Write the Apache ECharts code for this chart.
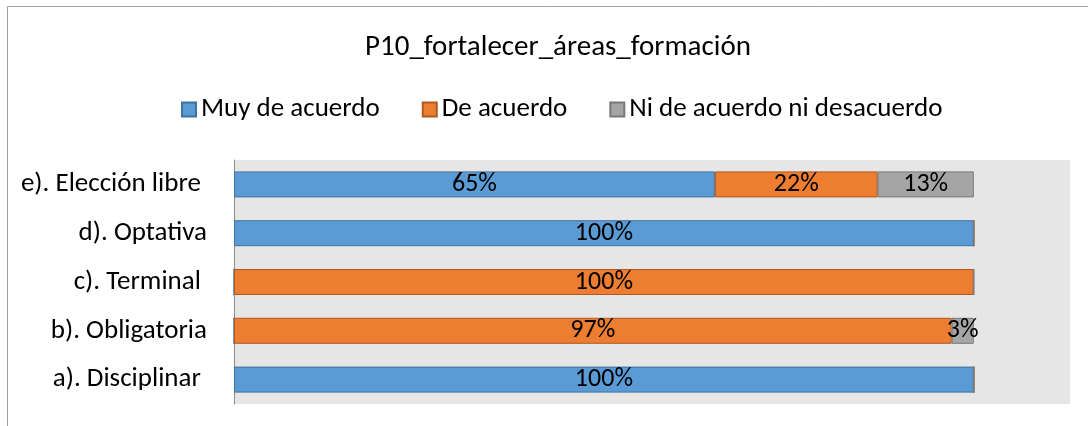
<!DOCTYPE html>
<html lang="es">
<head>
<meta charset="UTF-8">
<title>P10_fortalecer_áreas_formación</title>
<script src="https://cdn.jsdelivr.net/npm/echarts@6/dist/echarts.min.js"></script>
<style>
  html, body { margin: 0; padding: 0; background: #fff; }
</style>
</head>
<body>
<div id="main" style="width:1088px;height:426px;"></div>
<script>
  // categorías (de abajo hacia arriba, como en el eje)
  const categorias = ['a). Disciplinar ', 'b). Obligatoria', 'c). Terminal ', 'd). Optativa', 'e). Elección libre '];
  const muyDeAcuerdo = [100, 0, 0, 100, 65];
  const deAcuerdo = [0, 97, 100, 0, 22];
  const niNi = [0, 3, 0, 0, 13];
  const nombres = ['Muy de acuerdo', 'De acuerdo', 'Ni de acuerdo ni desacuerdo'];

  const fuente = 'Carlito, Lato, sans-serif';

  function serie(nombre, datos, color, borde) {
    return {
      name: nombre,
      type: 'bar',
      stack: 'total',
      barWidth: 26,
      data: datos,
      itemStyle: { color: color, borderColor: borde, borderWidth: 1 },
      label: {
        show: true,
        position: 'inside',
        color: '#000',
        fontSize: 26,
        fontFamily: fuente,
        formatter: p => p.value > 0 ? p.value + '%' : ''
      }
    };
  }

  const chart = echarts.init(document.getElementById('main'));
  chart.setOption({
    animation: false,
    title: {
      text: 'P10_fortalecer_áreas_formación',
      left: 553,
      textAlign: 'center',
      top: 28,
      textStyle: { fontSize: 29, fontWeight: 'normal', color: '#000', fontFamily: fuente }
    },
    legend: {
      top: 91,
      left: 176,
      itemWidth: 14,
      itemHeight: 14,
      itemGap: 42,
      icon: 'rect',
      textStyle: { fontSize: 27, color: '#000', fontFamily: fuente },
      data: nombres
    },
    graphic: [{
      type: 'rect',
      shape: { x: 7.5, y: 6.5, width: 1200, height: 600 },
      style: { fill: 'none', stroke: '#a0a0a0', lineWidth: 1 },
      silent: true
    }],
    grid: {
      left: 234, right: 18, top: 160, bottom: 22,
      show: true, backgroundColor: '#e7e6e6', borderWidth: 0
    },
    xAxis: {
      type: 'value', min: 0, max: 113, show: false
    },
    yAxis: {
      type: 'category',
      data: categorias,
      axisLine: { lineStyle: { color: '#8c8c8c', width: 1 } },
      axisTick: { show: false },
      axisLabel: { fontSize: 27, color: '#000', fontFamily: fuente, margin: 27 }
    },
    series: [
      serie(nombres[0], muyDeAcuerdo, '#5b9bd5', '#41719c'),
      serie(nombres[1], deAcuerdo, '#ed7d31', '#ae5a21'),
      serie(nombres[2], niNi, '#a5a5a5', '#787878')
    ]
  });
</script>
</body>
</html>
